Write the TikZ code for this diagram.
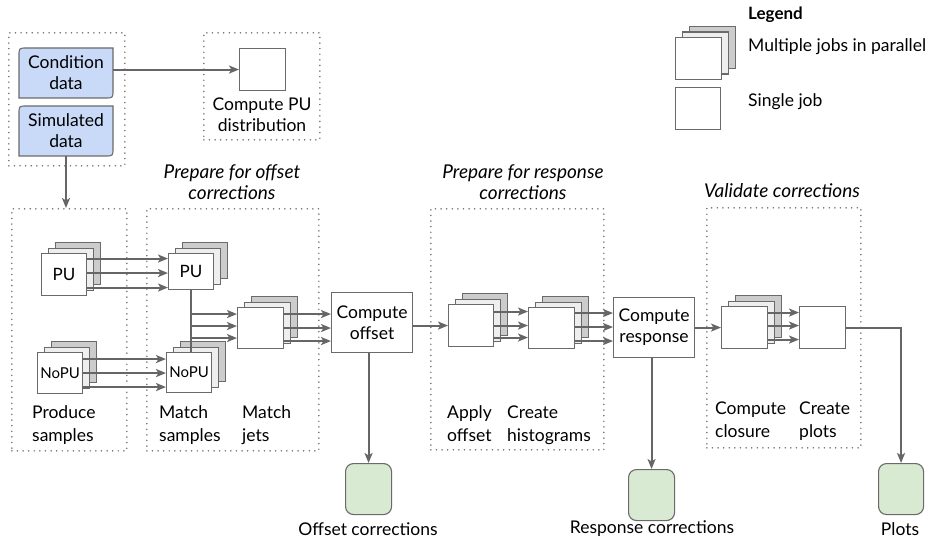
\documentclass[tikz,border=0pt]{standalone}
\usepackage{fontspec}
\setmainfont{Lato}
\usetikzlibrary{arrows.meta,calc}

\definecolor{boxline}{HTML}{6A6A6A}
\definecolor{linegray}{HTML}{666666}
\definecolor{dotgray}{HTML}{6E6E6E}
\definecolor{backgray}{HTML}{CCCCCC}
\definecolor{midgray}{HTML}{EEEEEE}
\definecolor{datablue}{HTML}{C9DAF8}
\definecolor{outgreen}{HTML}{D9EAD3}

\tikzset{
  txt/.style={font=\fontsize{17.5}{21}\selectfont, inner sep=0pt},
  lbl/.style={txt, align=left, anchor=west, font=\fontsize{17.5}{23}\selectfont},
  ttl/.style={txt, align=center, font=\fontsize{19}{21}\selectfont\itshape},
  single/.style={draw=boxline, fill=white, line width=1.1pt, inner sep=0pt,
    minimum width=45pt, minimum height=42pt, anchor=north west,
    font=\fontsize{17}{20}\selectfont},
  backjob/.style={single, fill=backgray},
  midjob/.style={single, fill=midgray},
  grp/.style={draw=dotgray, line width=1.7pt, dash pattern=on 0pt off 5.6pt,
    line cap=round, inner sep=0pt, anchor=north west},
  datashape/.style={draw=boxline, fill=datablue, line width=1.1pt},
  outbox/.style={draw=boxline, fill=outgreen, line width=1.1pt, rounded corners=8pt,
    minimum width=46pt, minimum height=51pt, inner sep=0pt, anchor=north west},
  link/.style={draw=linegray, line width=2pt},
  flow/.style={link, -{Stealth[length=10pt,width=8pt,inset=2.5pt]}},
}

% three stacked boxes: name, x, y of the front box's top-left corner, width, height, text
\newcommand\jobstack[6]{%
  \node[backjob, minimum width=#4pt, minimum height=#5pt] (#1b) at (#2+14,#3-11) {};
  \node[midjob, minimum width=#4pt, minimum height=#5pt] (#1m) at (#2+7,#3-5.5) {};
  \node[single, minimum width=#4pt, minimum height=#5pt] (#1) at (#2,#3) {#6};
}
% two-line step caption with even line heights
\newcommand\twolines[2]{\strut#1\\\strut#2}

\begin{document}
\begin{tikzpicture}[x=1pt,y=-1pt]
\useasboundingbox (0,0) rectangle (937,540);
\fill[white] (0,0) rectangle (937,540);

% dotted groups
\node[grp, minimum width=116pt, minimum height=133pt] (gIn) at (8,32) {};
\node[grp, minimum width=116pt, minimum height=107pt] (gPU) at (203,32) {};
\node[grp, minimum width=115pt, minimum height=242pt] (gProd) at (11,208) {};
\node[grp, minimum width=172pt, minimum height=242pt] (gMatch) at (146,208) {};
\node[grp, minimum width=173pt, minimum height=241pt] (gResp) at (430,208) {};
\node[grp, minimum width=154pt, minimum height=240pt] (gVal) at (706,207) {};

% group titles
\node[ttl] (tOff) at (232,182.5) {Prepare for offset\\corrections};
\node[ttl] (tResp) at (523,182) {Prepare for response\\corrections};
\node[ttl] (tVal) at (782,191) {Validate corrections};

% input data
\path[datashape] (19,98) -- (19,56) .. controls (19,48) .. (27,48) -- (113,48)
  -- (113,90) .. controls (113,98) .. (105,98) -- cycle;
\path[datashape] (19,156) -- (19,114) .. controls (19,106) .. (27,106) -- (113,106)
  -- (113,148) .. controls (113,156) .. (105,156) -- cycle;
\node[txt, align=center, minimum width=94pt, minimum height=50pt] (cond) at (66,73) {Condition\\data};
\node[txt, align=center, minimum width=94pt, minimum height=50pt] (sim) at (66,131) {Simulated\\data};

% pile-up distribution
\node[single, minimum width=46pt, minimum height=42pt] (pu) at (239,48) {};
\node[txt, align=center] (puL) at (262,114.5) {Compute PU\\distribution};

% produce samples
\jobstack{pPU}{41}{253}{45}{42}{PU}
\jobstack{pNo}{37}{352}{45}{41}{\fontsize{15}{18}\selectfont NoPU}
\node[lbl] (pL) at (32,425.5) {\twolines{Produce}{samples}};

% match samples and jets
\jobstack{mPU}{168}{253}{45}{36}{PU}
\jobstack{mNo}{166}{352}{45}{40}{\fontsize{15}{18}\selectfont NoPU}
\jobstack{mJets}{237}{307}{46}{41}{}
\node[lbl] (msL) at (159,425.5) {\twolines{Match}{samples}};
\node[lbl] (mjL) at (242,425.5) {\twolines{Match}{jets}};

% offset
\node[single, txt, align=center, minimum width=81pt, minimum height=60pt] (off) at (331,292) {Compute\\offset};

% response preparation
\jobstack{apply}{448}{304}{45}{42}{}
\jobstack{hist}{528}{307}{46}{41}{}
\node[lbl] (aL) at (447,425.5) {\twolines{Apply}{offset}};
\node[lbl] (hL) at (507,425.5) {\twolines{Create}{histograms}};

% response
\node[single, txt, align=center, minimum width=81pt, minimum height=60pt] (resp) at (613,297) {Compute\\response};

% validation
\jobstack{clos}{721}{306}{46}{42}{}
\node[single, minimum width=46pt, minimum height=42pt] (cplots) at (799,306) {};
\node[lbl] (cL) at (715,421.5) {\twolines{Compute}{closure}};
\node[lbl] (cpL) at (799,421.5) {\twolines{Create}{plots}};

% outputs
\node[outbox] (offOut) at (345,463) {};
\node[outbox] (respOut) at (628,469) {};
\node[outbox, minimum width=45pt] (plotOut) at (878,463) {};
\node[txt, anchor=center] (offOutL) at (368,529) {Offset corrections};
\node[txt, anchor=center] (respOutL) at (652,529) {Response corrections};
\node[txt, anchor=center] (plotOutL) at (900,529) {Plots};

% legend
\node[txt, anchor=west, font=\fontsize{17}{21}\selectfont\bfseries] (legT) at (748,15) {Legend};
\jobstack{leg}{675}{37}{46}{42}{}
\node[single, minimum width=45pt, minimum height=42pt] (legS) at (675,87) {};
\node[txt, anchor=west] (legM) at (748,47) {Multiple jobs in parallel};
\node[txt, anchor=west] (legSL) at (748,102) {Single job};

% connectors
\draw[flow] (cond.east |- pu.west) -- (pu.west);
\draw[flow] (sim.south) -- (sim.south |- gProd.north);
\foreach \d in {16,1.5,-13}
  \draw[flow] ([yshift=\d pt]pPU.east) -- ([yshift=\d pt]pPU.east -| mPU.west);
\foreach \d in {14,0,-14}
  \draw[flow] ([yshift=\d pt]pNo.east) -- ([yshift=\d pt]pNo.east -| mNo.west);
\draw[link] (mPU.south) -- (mPU.south |- mNo.north);
\foreach \d in {14,2,-10}
  \draw[flow] ([yshift=\d pt]mJets.west -| mPU.south) -- ([yshift=\d pt]mJets.west);
\foreach \d in {14,0,-13}
  \draw[flow] ([yshift=\d pt]mJets.east) -- ([yshift=\d pt]mJets.east -| off.west);
\draw[flow] (apply.west -| off.east) -- (apply.west);
\foreach \d in {14,0,-12}
  \draw[flow] ([yshift=\d pt]apply.east) -- ([yshift=\d pt]apply.east -| hist.west);
\foreach \d in {15,1,-13}
  \draw[flow] ([yshift=\d pt]hist.east) -- ([yshift=\d pt]hist.east -| resp.west);
\draw[flow] (clos.west -| resp.east) -- (clos.west);
\foreach \d in {15,2,-12}
  \draw[flow] ([yshift=\d pt]clos.east) -- ([yshift=\d pt]clos.east -| cplots.west);
\draw[flow] (cplots.east) -- (cplots.east -| plotOut.north) -- (plotOut.north);
\draw[flow] (offOut.north |- off.south) -- (offOut.north);
\draw[flow] (respOut.north |- resp.south) -- (respOut.north);
\end{tikzpicture}
\end{document}
